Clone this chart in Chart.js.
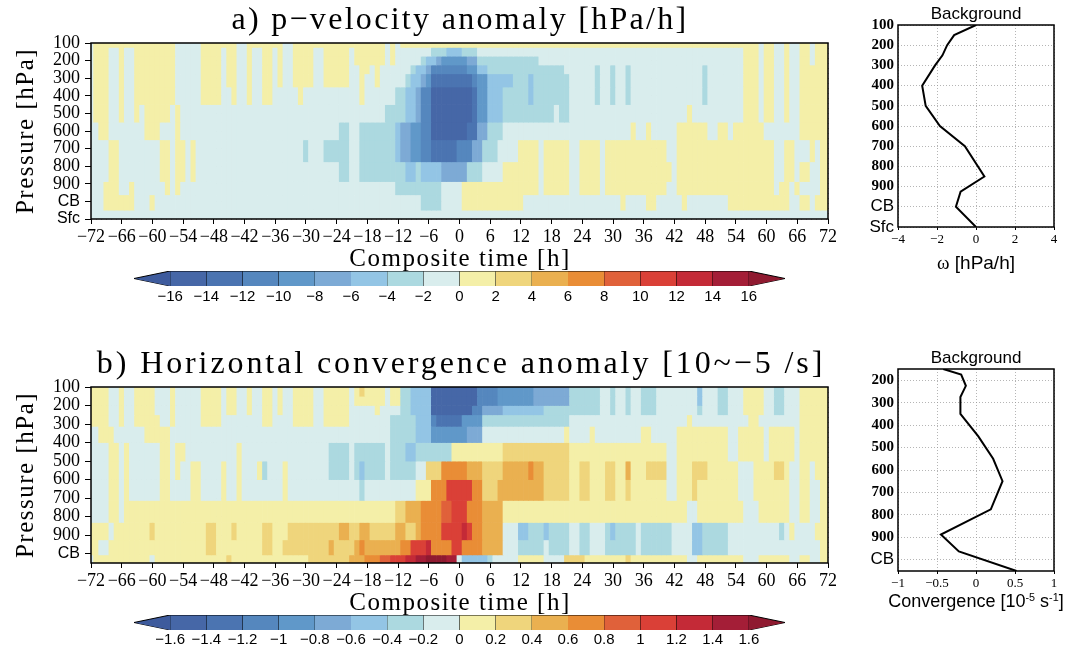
<!DOCTYPE html>
<html>
<head>
<meta charset="utf-8">
<script src="https://cdn.jsdelivr.net/npm/chart.js@4.4.1/dist/chart.umd.min.js"></script>
<style>
  body { margin: 0; background: #fff; }
  #fig { position: relative; width: 1066px; height: 647px; overflow: hidden; background: #fff; }
  canvas { position: absolute; }
  .txt { position: absolute; transform: translate(-50%, -50%); white-space: nowrap; line-height: 1; color: #000; }
  .serif { font-family: "Liberation Serif", serif; }
  .sans { font-family: "Liberation Sans", Arial, sans-serif; }
  .rot { transform: translate(-50%, -50%) rotate(-90deg); }
  sup { font-size: 0.6em; vertical-align: 0.6em; line-height: 0; }
</style>
</head>
<body>
<div id="fig">
  <canvas id="heatA" width="840" height="262" style="left:0;top:0"></canvas>
  <canvas id="cbarA" width="680" height="45" style="left:120px;top:265px"></canvas>
  <canvas id="profA" width="220" height="275" style="left:846px;top:0"></canvas>
  <canvas id="heatB" width="840" height="262" style="left:0;top:345px"></canvas>
  <canvas id="cbarB" width="680" height="38" style="left:120px;top:609px"></canvas>
  <canvas id="profB" width="220" height="265" style="left:846px;top:345px"></canvas>

  <div class="txt serif" style="left:460px;top:18px;font-size:32px;letter-spacing:2.3px">a) p&minus;velocity anomaly [hPa/h]</div>
  <div class="txt serif" style="left:460px;top:257px;font-size:25px;letter-spacing:1.5px">Composite time [h]</div>
  <div class="txt serif rot" style="left:24px;top:131px;font-size:25px;letter-spacing:1.5px">Pressure [hPa]</div>

  <div class="txt serif" style="left:461px;top:362px;font-size:32px;letter-spacing:2.9px">b) Horizontal convergence anomaly [10~&minus;5 /s]</div>
  <div class="txt serif" style="left:460px;top:601px;font-size:25px;letter-spacing:1.5px">Composite time [h]</div>
  <div class="txt serif rot" style="left:24px;top:475px;font-size:25px;letter-spacing:1.5px">Pressure [hPa]</div>

  <div class="txt sans" style="left:976px;top:13px;font-size:17px">Background</div>
  <div class="txt sans" style="left:976px;top:262px;font-size:19px"><span style="font-family:'Liberation Serif'">&omega;</span> [hPa/h]</div>
  <div class="txt sans" style="left:976px;top:357px;font-size:17px">Background</div>
  <div class="txt sans" style="left:976px;top:601px;font-size:18px">Convergence [10<sup>-5</sup> s<sup>-1</sup>]</div>
</div>
<script>
// ---- axes ----
const HOURS = Array.from({ length: 145 }, (_, i) => i - 72);
const TIME_TICKS = [-72, -66, -60, -54, -48, -42, -36, -30, -24, -18, -12, -6, 0, 6, 12, 18, 24, 30, 36, 42, 48, 54, 60, 66, 72];
const LEVELS_A = [100, 150, 200, 250, 300, 400, 500, 600, 700, 850, 925, 1000, 1100];
const LEVELS_B = [125, 175, 225, 275, 350, 450, 550, 650, 775, 887.5, 962.5, 1050];
const PRESSURE_TICKS_A = [100, 200, 300, 400, 500, 600, 700, 800, 900, 1000, 1100];
const PRESSURE_TICKS_B = [100, 200, 300, 400, 500, 600, 700, 800, 900, 1000];
const PROFILE_TICKS_B = [200, 300, 400, 500, 600, 700, 800, 900, 1000];
const LEVEL_NAMES = { 1000: 'CB', 1100: 'Sfc' };

// ---- contour intervals and colours ----
const OMEGA_BOUNDS = [-16, -14, -12, -10, -8, -6, -4, -2, 0, 2, 4, 6, 8, 10, 12, 14, 16];
const CONV_BOUNDS = [-1.6, -1.4, -1.2, -1, -0.8, -0.6, -0.4, -0.2, 0, 0.2, 0.4, 0.6, 0.8, 1, 1.2, 1.4, 1.6];
const PALETTE = ['#3e5b9d', '#4667a7', '#4b74b1', '#5587be', '#6098c9', '#7daad5', '#93c5e5', '#acd9e0', '#d9eded',
                 '#f4efa8', '#efd57c', '#eab050', '#e98d36', '#e0613a', '#da4037', '#c42a37', '#a41e37', '#8f1a30'];
// one character per interval, lowest to highest
const BIN_CODES = '87654321.yabcdefgh';

// ---- composites: [fromHour, toHour, interval] spans per level, top to bottom; gaps are '.' ----
const OMEGA_ROWS = [
  [[-71,-56,'y'],[-50,-44,'y'],[-41,-35,'y'],[-32,-15,'y'],[-13,-13,'y'],[-11,58,'y'],[60,61,'y'],[64,64,'y'],[67,68,'y'],[70,72,'y']],
  [[-71,-69,'y'],[-66,-66,'y'],[-63,-56,'y'],[-50,-47,'y'],[-45,-44,'y'],[-41,-41,'y'],[-38,-37,'y'],[-35,-35,'y'],[-32,-29,'y'],[-26,-22,'y'],[-20,-15,'y'],[-13,-13,'y'],
   [-5,3,'1'],[-2,0,'2'],[56,58,'y'],[60,61,'y'],[64,64,'y'],[67,68,'y'],[70,72,'y']],
  [[-71,-69,'y'],[-66,-66,'y'],[-63,-56,'y'],[-50,-47,'y'],[-45,-44,'y'],[-41,-41,'y'],[-38,-37,'y'],[-35,-35,'y'],[-32,-29,'y'],[-26,-22,'y'],[-20,-15,'y'],[-13,-13,'y'],
   [-7,15,'1'],[-6,-5,'2'],[-4,-4,'3'],[-3,1,'4'],[2,3,'3'],[56,58,'y'],[60,61,'y'],[64,64,'y'],[67,68,'y'],[70,72,'y']],
  [[-71,-69,'y'],[-66,-66,'y'],[-63,-56,'y'],[-50,-47,'y'],[-45,-44,'y'],[-41,-41,'y'],[-38,-37,'y'],[-35,-35,'y'],[-32,-29,'y'],[-26,-22,'y'],[-19,-18,'y'],[-16,-16,'y'],
   [-9,20,'1'],[-8,-7,'2'],[-6,-6,'3'],[-5,1,'5'],[2,3,'4'],[4,5,'2'],[27,27,'1'],[30,30,'1'],[33,33,'1'],[48,48,'1'],[56,58,'y'],[60,61,'y'],[64,64,'y'],[67,72,'y']],
  [[-71,-69,'y'],[-66,-66,'y'],[-63,-56,'y'],[-50,-47,'y'],[-45,-44,'y'],[-41,-41,'y'],[-38,-37,'y'],[-35,-35,'y'],[-32,-29,'y'],[-26,-22,'y'],[-19,-19,'y'],[-16,-16,'y'],
   [-10,21,'1'],[-9,-8,'2'],[-7,-7,'3'],[-6,-6,'4'],[-5,2,'6'],[3,3,'5'],[4,5,'4'],[6,10,'2'],[14,14,'2'],[27,27,'1'],[30,30,'1'],[33,33,'1'],[48,48,'1'],[56,58,'y'],[60,61,'y'],[64,64,'y'],[67,72,'y']],
  [[-71,-69,'y'],[-66,-66,'y'],[-63,-56,'y'],[-50,-47,'y'],[-44,-44,'y'],[-41,-41,'y'],[-38,-37,'y'],[-31,-31,'y'],[-19,-19,'y'],
   [-12,21,'1'],[-10,-9,'2'],[-8,-8,'3'],[-7,-6,'5'],[-5,2,'7'],[3,3,'6'],[4,5,'4'],[6,8,'2'],[14,14,'2'],[27,27,'1'],[30,30,'1'],[33,33,'1'],[48,48,'1'],[56,58,'y'],[60,61,'y'],[64,64,'y'],[67,72,'y']],
  [[-71,-69,'y'],[-66,-66,'y'],[-63,-63,'y'],[-61,-57,'y'],[-55,-55,'y'],
   [-14,21,'1'],[19,19,'.'],[-10,-9,'2'],[-8,-8,'3'],[-7,-6,'5'],[-5,2,'7'],[3,3,'6'],[4,5,'4'],[6,8,'2'],[45,45,'y'],[56,58,'y'],[60,61,'y'],[64,64,'y'],[67,72,'y']],
  [[-70,-69,'y'],[-61,-59,'y'],[-55,-55,'y'],[-23,-22,'1'],[-19,-13,'1'],
   [-12,-12,'2'],[-11,-10,'3'],[-9,-8,'4'],[-7,-6,'5'],[-5,1,'7'],[2,3,'6'],[4,5,'3'],[6,8,'1'],
   [34,34,'y'],[37,37,'y'],[43,48,'y'],[51,52,'y'],[54,59,'y'],[67,72,'y']],
  [[-68,-67,'y'],[-58,-57,'y'],[-55,-54,'y'],[-52,-52,'y'],[-30,-30,'1'],[-26,-22,'1'],[-19,-13,'1'],
   [-12,-12,'2'],[-11,-10,'3'],[-9,-8,'4'],[-7,-6,'5'],[-5,-1,'6'],[0,2,'5'],[3,4,'3'],[5,7,'1'],
   [12,15,'y'],[17,21,'y'],[24,27,'y'],[29,40,'y'],[43,61,'y'],[64,65,'y'],[69,69,'y'],[71,72,'y']],
  [[-68,-67,'y'],[-58,-57,'y'],[-55,-54,'y'],[-52,-52,'y'],[-23,-22,'1'],[-19,-11,'1'],
   [-10,-9,'2'],[-8,-8,'1'],[-7,-4,'2'],[-3,1,'3'],[2,4,'1'],
   [9,15,'y'],[17,21,'y'],[24,27,'y'],[29,41,'y'],[43,61,'y'],[64,65,'y'],[67,68,'y'],[71,72,'y']],
  [[-69,-67,'y'],[-64,-64,'y'],[-57,-57,'y'],[-55,-55,'y'],[-12,-4,'1'],
   [1,15,'y'],[17,21,'y'],[24,27,'y'],[29,40,'y'],[43,61,'y'],[63,64,'y'],[66,66,'y'],[71,72,'y']],
  [[-69,-64,'y'],[-60,-60,'y'],[-7,-4,'1'],
   [1,12,'y'],[32,32,'y'],[37,38,'y'],[44,44,'y'],[53,64,'y'],[67,68,'y'],[70,72,'y']],
  [],
];

const CONV_ROWS = [
  [[-72,-69,'y'],[-66,-66,'y'],[-63,-60,'y'],[-56,-56,'y'],[-50,-47,'y'],[-45,-44,'y'],[-41,-41,'y'],[-38,-37,'y'],[-35,-35,'y'],[-32,-29,'y'],[-26,-22,'y'],[-20,-15,'y'],[-19,-19,'a'],[-13,-12,'y'],
   [-11,-10,'1'],[-9,-6,'2'],[-5,3,'7'],[4,7,'5'],[8,14,'4'],[15,21,'3'],[22,27,'1'],[30,30,'1'],[33,33,'1'],[36,38,'1'],[47,47,'2'],[51,52,'1'],[56,59,'y'],[62,63,'1'],[67,72,'y']],
  [[-72,-69,'y'],[-66,-66,'y'],[-63,-60,'y'],[-56,-56,'y'],[-50,-47,'y'],[-45,-44,'y'],[-41,-41,'y'],[-38,-37,'y'],[-35,-35,'y'],[-32,-29,'y'],[-26,-22,'y'],[-20,-15,'y'],[-13,-12,'y'],
   [-11,-10,'1'],[-9,-6,'2'],[-5,3,'7'],[4,7,'5'],[8,14,'4'],[15,21,'3'],[22,27,'1'],[30,30,'1'],[33,33,'1'],[36,38,'1'],[47,47,'2'],[51,52,'1'],[56,59,'y'],[62,63,'1'],[67,72,'y']],
  [[-72,-69,'y'],[-66,-66,'y'],[-63,-60,'y'],[-56,-56,'y'],[-50,-47,'y'],[-45,-44,'y'],[-41,-41,'y'],[-38,-37,'y'],[-35,-35,'y'],[-32,-29,'y'],[-26,-22,'y'],[-16,-16,'y'],
   [-11,-10,'1'],[-9,-6,'2'],[-5,2,'7'],[3,4,'5'],[5,8,'3'],[9,16,'2'],[17,27,'1'],[30,30,'1'],[33,33,'1'],[36,38,'1'],[47,47,'1'],[51,52,'1'],[56,59,'y'],[62,63,'1'],[67,72,'y']],
  [[-72,-69,'y'],[-66,-66,'y'],[-63,-59,'y'],[-56,-56,'y'],[-50,-47,'y'],[-38,-37,'y'],[-32,-29,'y'],[-26,-22,'y'],
   [-13,-9,'1'],[-8,-6,'2'],[-5,-5,'5'],[-4,0,'6'],[1,4,'4'],[5,21,'1'],[45,45,'y'],[57,58,'y'],[67,72,'y']],
  [[-70,-68,'y'],[-61,-57,'y'],[-13,-9,'1'],[-8,-6,'2'],[-5,1,'4'],[2,4,'3'],
   [21,21,'y'],[26,26,'y'],[36,37,'y'],[43,52,'y'],[55,59,'y'],[61,65,'y'],[67,72,'y']],
  [[-68,-67,'y'],[-65,-65,'y'],[-58,-57,'y'],[-55,-54,'y'],[-43,-43,'y'],
   [-25,-22,'1'],[-20,-15,'1'],[-13,-11,'1'],[-10,-9,'2'],[-8,-2,'1'],[-1,8,'y'],[9,21,'a'],
   [22,40,'y'],[43,52,'y'],[55,59,'y'],[61,65,'y'],[67,72,'y']],
  [[-68,-67,'y'],[-65,-65,'y'],[-58,-57,'y'],[-55,-55,'y'],[-52,-51,'y'],[-46,-46,'y'],[-43,-43,'y'],[-39,-39,'y'],[-38,-38,'1'],[-34,-34,'y'],
   [-25,-22,'1'],[-20,-15,'1'],[-19,-19,'2'],[-13,-9,'1'],
   [-6,-4,'a'],[-3,1,'c'],[2,4,'b'],[5,8,'a'],[9,13,'b'],[14,14,'c'],[15,16,'b'],[17,21,'a'],
   [22,40,'y'],[24,25,'a'],[29,30,'a'],[33,33,'b'],[37,40,'a'],[43,54,'y'],[46,48,'a'],[58,64,'y'],[62,63,'a'],[67,68,'y'],[70,72,'y']],
  [[-68,-67,'y'],[-65,-65,'y'],[-58,-57,'y'],[-52,-51,'y'],[-46,-46,'y'],[-43,-43,'y'],[-34,-34,'y'],[-19,-19,'1'],
   [-8,-6,'y'],[-5,-3,'c'],[-2,2,'e'],[3,4,'c'],[5,7,'a'],[8,16,'b'],[17,21,'a'],
   [22,40,'y'],[24,25,'a'],[29,30,'a'],[33,33,'a'],[43,54,'y'],[46,46,'a'],[58,64,'y'],[67,68,'y'],[71,72,'y']],
  [[-68,-67,'y'],[-65,-13,'y'],[-12,-11,'a'],[-10,-8,'b'],[-7,-4,'c'],[-3,-2,'d'],[-1,1,'e'],[2,4,'c'],[5,8,'b'],
   [9,44,'y'],[47,55,'y'],[59,64,'y'],[67,68,'y'],[71,72,'y']],
  [[-72,-69,'y'],[-67,-61,'y'],[-60,-60,'a'],[-59,-50,'y'],[-49,-48,'a'],[-47,-45,'y'],[-44,-44,'a'],[-43,-39,'y'],[-38,-37,'a'],[-36,-34,'y'],
   [-33,-24,'a'],[-23,-22,'b'],[-21,-20,'a'],[-19,-18,'b'],[-17,-13,'a'],[-12,-11,'b'],[-10,-9,'a'],[-8,-8,'b'],[-7,-4,'c'],[-3,0,'e'],[1,1,'f'],[2,2,'e'],[3,4,'c'],[5,8,'b'],
   [12,13,'2'],[14,16,'1'],[17,17,'2'],[18,21,'1'],[24,25,'1'],[29,34,'1'],[30,30,'2'],[36,41,'1'],[46,47,'2'],[48,52,'1'],[63,63,'1'],[65,65,'y'],[70,72,'y']],
  [[-72,-71,'y'],[-68,-50,'y'],[-49,-48,'a'],[-47,-39,'y'],[-38,-37,'a'],[-36,-35,'y'],[-34,-26,'a'],[-25,-25,'b'],[-24,-21,'a'],[-20,-18,'b'],[-19,-19,'c'],[-17,-12,'b'],
   [-11,-10,'c'],[-9,-7,'e'],[-6,-6,'f'],[-5,-2,'c'],[-1,0,'e'],[1,4,'c'],[5,8,'b'],
   [12,16,'1'],[18,21,'1'],[24,25,'1'],[29,34,'1'],[36,41,'1'],[46,47,'2'],[48,52,'1'],[71,72,'y']],
  [[-71,-61,'y'],[-59,-46,'y'],[-45,-45,'a'],[-44,-30,'y'],[-29,-22,'a'],[-21,-19,'b'],[-18,-16,'c'],[-15,-14,'d'],[-13,-11,'e'],[-10,-9,'f'],[-8,-7,'g'],[-6,-3,'h'],[-2,-1,'g'],
   [1,5,'2'],[6,6,'1'],[12,16,'y'],[21,24,'a'],[25,32,'y'],[33,33,'a'],[34,44,'y'],[47,55,'y'],[59,64,'y'],[67,68,'y'],[71,72,'y']],
];

// ---- background profiles ----
const OMEGA_PROFILE_LEVELS = [100, 150, 200, 250, 300, 400, 500, 600, 700, 850, 925, 1000, 1100];
const OMEGA_PROFILE = [0, -1.12, -1.48, -1.72, -2.1, -2.76, -2.58, -1.85, -0.57, 0.43, -0.79, -1.03, 0];
const CONV_PROFILE_LEVELS = [150, 175, 225, 275, 350, 450, 550, 650, 775, 887.5, 962.5, 1050];
const CONV_PROFILE = [-0.42, -0.19, -0.13, -0.2, -0.2, 0.03, 0.22, 0.34, 0.19, -0.45, -0.22, 0.52];

// ---------------------------------------------------------------
Chart.defaults.color = '#000';
Chart.defaults.font.family = "'Liberation Sans', Arial, sans-serif";

const base = {
  responsive: false,
  animation: false,
  events: [],
  plugins: { legend: { display: false }, tooltip: { enabled: false } },
};

const minus = (v) => (v < 0 ? '\u2212' : '') + String(Math.abs(v));
const levelLabel = (v) => LEVEL_NAMES[v] || String(v);
const fixedTicks = (list) => (s) => { s.ticks = list.map((v) => ({ value: v })); };

function decodeRow(spans) {
  const codes = HOURS.map(() => '.');
  spans.forEach(([from, to, code]) => {
    for (let h = from; h <= to; h++) codes[h + 72] = code;
  });
  return codes;
}

function binValue(code, bounds) {
  const k = BIN_CODES.indexOf(code);
  const step = bounds[1] - bounds[0];
  if (k === 0) return bounds[0] - step / 2;
  if (k === bounds.length) return bounds[bounds.length - 1] + step / 2;
  return (bounds[k - 1] + bounds[k]) / 2;
}

function colorFor(value, bounds) {
  let k = 0;
  while (k < bounds.length && value >= bounds[k]) k++;
  return PALETTE[k];
}

// each level becomes a row of floating bars spanning half way to its neighbours
function heatDatasets(rows, levels, bounds) {
  const n = levels.length;
  return rows.map((spans, i) => {
    const lo = i === 0 ? levels[0] - (levels[1] - levels[0]) / 2 : (levels[i - 1] + levels[i]) / 2;
    const hi = i === n - 1 ? levels[i] + (levels[i] - levels[i - 1]) / 2 : (levels[i] + levels[i + 1]) / 2;
    const values = decodeRow(spans).map((c) => binValue(c, bounds));
    return {
      data: HOURS.map((h) => ({ x: h, y: [lo, hi] })),
      backgroundColor: values.map((v) => colorFor(v, bounds)),
      borderWidth: 0,
      grouped: false,
      barPercentage: 1,
      categoryPercentage: 1,
    };
  });
}

const framePlugin = {
  id: 'frame',
  afterDraw(chart, args, opts) {
    const { left, top, right, bottom } = chart.chartArea;
    const ctx = chart.ctx;
    ctx.save();
    ctx.strokeStyle = '#000';
    ctx.lineWidth = opts.width || 1.5;
    ctx.strokeRect(left, top, right - left, bottom - top);
    ctx.restore();
  },
};

const SERIF = "'Liberation Serif', serif";
const tickFont = (size, sansSize, weight) => (ctx) => {
  if (ctx.tick && LEVEL_NAMES[ctx.tick.value]) return { family: "'Liberation Sans', Arial", size: sansSize };
  return { family: SERIF, size, weight };
};

function heatChart(id, rows, levels, bounds, yMax, yTicks, padTop, xHeight) {
  return new Chart(document.getElementById(id), {
    type: 'bar',
    data: { datasets: heatDatasets(rows, levels, bounds) },
    options: {
      ...base,
      layout: { autoPadding: false, padding: { top: padTop, right: 12, left: 0, bottom: 0 } },
      plugins: { ...base.plugins, frame: { width: 1.5 } },
      scales: {
        x: {
          type: 'linear', min: -72, max: 72, offset: false, z: 1,
          afterBuildTicks: fixedTicks(TIME_TICKS),
          afterFit: (s) => { s.height = xHeight; s.paddingLeft = 0; s.paddingRight = 0; },
          grid: { offset: false, color: 'rgba(70,70,70,0.45)', tickLength: 5, tickColor: '#000', tickWidth: 1 },
          border: { display: false, dash: [1, 4] },
          ticks: { autoSkip: false, maxRotation: 0, padding: 2, font: { family: SERIF, size: 18 }, callback: minus },
        },
        y: {
          type: 'linear', reverse: true, min: 100, max: yMax, z: 1,
          afterBuildTicks: fixedTicks(yTicks),
          afterFit: (s) => { s.width = 91; s.paddingTop = 0; s.paddingBottom = 0; },
          grid: { color: 'rgba(70,70,70,0.45)', tickLength: 6, tickColor: '#000', tickWidth: 1 },
          border: { display: false, dash: [1, 4] },
          ticks: { autoSkip: false, padding: 5, font: tickFont(18, 16), callback: levelLabel },
        },
      },
    },
    plugins: [framePlugin],
  });
}

function colorbarDatasets(bounds) {
  const step = bounds[1] - bounds[0];
  const lo = bounds[0];
  const hi = bounds[bounds.length - 1];
  const line = { showLine: true, pointRadius: 0, borderColor: '#000', borderWidth: 1 };
  const sets = [];
  for (let k = 1; k < bounds.length; k++) {
    sets.push({ ...line, data: [{ x: bounds[k - 1], y: 1 }, { x: bounds[k], y: 1 }], fill: { value: 0 }, backgroundColor: PALETTE[k] });
  }
  // end triangles: upper edge filled down to the lower edge
  sets.push({ ...line, data: [{ x: lo - step, y: 0.5 }, { x: lo, y: 1 }], fill: '+1', backgroundColor: PALETTE[0] });
  sets.push({ ...line, data: [{ x: lo - step, y: 0.5 }, { x: lo, y: 0 }], fill: false });
  sets.push({ ...line, data: [{ x: hi + step, y: 0.5 }, { x: hi, y: 1 }], fill: '+1', backgroundColor: PALETTE[PALETTE.length - 1] });
  sets.push({ ...line, data: [{ x: hi + step, y: 0.5 }, { x: hi, y: 0 }], fill: false });
  sets.push({ ...line, data: [{ x: lo, y: 0 }, { x: hi, y: 0 }], fill: false });
  return sets;
}

function colorbarChart(id, bounds, xHeight, labelPad) {
  const step = bounds[1] - bounds[0];
  return new Chart(document.getElementById(id), {
    type: 'scatter',
    data: { datasets: colorbarDatasets(bounds) },
    options: {
      ...base,
      layout: { autoPadding: false, padding: { top: 6, left: 14, right: 15, bottom: 0 } },
      scales: {
        x: {
          type: 'linear', min: bounds[0] - step, max: bounds[bounds.length - 1] + step, z: 1,
          afterBuildTicks: fixedTicks(bounds),
          afterFit: (s) => { s.height = xHeight; s.paddingLeft = 0; s.paddingRight = 0; },
          grid: { color: '#000', lineWidth: 1, drawTicks: false },
          border: { display: false },
          ticks: { autoSkip: false, maxRotation: 0, padding: labelPad, font: { size: 15 }, callback: minus },
        },
        y: { type: 'linear', min: 0, max: 1, display: false },
      },
    },
  });
}

function profileChart(id, levels, values, xMin, xMax, xTicks, yMin, yMax, yTicks, padTop, xHeight) {
  return new Chart(document.getElementById(id), {
    type: 'scatter',
    data: {
      datasets: [{
        data: levels.map((p, i) => ({ x: values[i], y: p })),
        showLine: true, pointRadius: 0, borderColor: '#000', borderWidth: 2,
      }],
    },
    options: {
      ...base,
      layout: { autoPadding: false, padding: { top: padTop, right: 12, left: 0, bottom: 0 } },
      plugins: { ...base.plugins, frame: { width: 1.5 } },
      scales: {
        x: {
          type: 'linear', min: xMin, max: xMax,
          afterBuildTicks: fixedTicks(xTicks),
          afterFit: (s) => { s.height = xHeight; s.paddingLeft = 0; s.paddingRight = 0; },
          grid: { color: 'rgba(150,150,150,0.7)', tickLength: 3, tickColor: '#000' },
          border: { display: false, dash: [1, 2] },
          ticks: { autoSkip: false, maxRotation: 0, padding: 2, font: { family: SERIF, size: 13 }, callback: minus },
        },
        y: {
          type: 'linear', reverse: true, min: yMin, max: yMax,
          afterBuildTicks: fixedTicks(yTicks),
          afterFit: (s) => { s.width = 52; s.paddingTop = 0; s.paddingBottom = 0; },
          grid: { color: 'rgba(150,150,150,0.7)', drawTicks: false },
          border: { display: false, dash: [1, 2] },
          ticks: { autoSkip: false, padding: 4, font: tickFont(15, 17, 'bold'), callback: levelLabel },
        },
      },
    },
    plugins: [framePlugin],
  });
}

heatChart('heatA', OMEGA_ROWS, LEVELS_A, OMEGA_BOUNDS, 1100, PRESSURE_TICKS_A, 43, 43);
colorbarChart('cbarA', OMEGA_BOUNDS, 24, 1.5);
profileChart('profA', OMEGA_PROFILE_LEVELS, OMEGA_PROFILE, -4, 4, [-4, -2, 0, 2, 4], 100, 1100, PRESSURE_TICKS_A, 25, 48);

heatChart('heatB', CONV_ROWS, LEVELS_B, CONV_BOUNDS, 1050, PRESSURE_TICKS_B, 42, 44);
colorbarChart('cbarB', CONV_BOUNDS, 17, 1);
profileChart('profB', CONV_PROFILE_LEVELS, CONV_PROFILE, -1, 1, [-1, -0.5, 0, 0.5, 1], 150, 1050, PROFILE_TICKS_B, 24, 39);
</script>
</body>
</html>
